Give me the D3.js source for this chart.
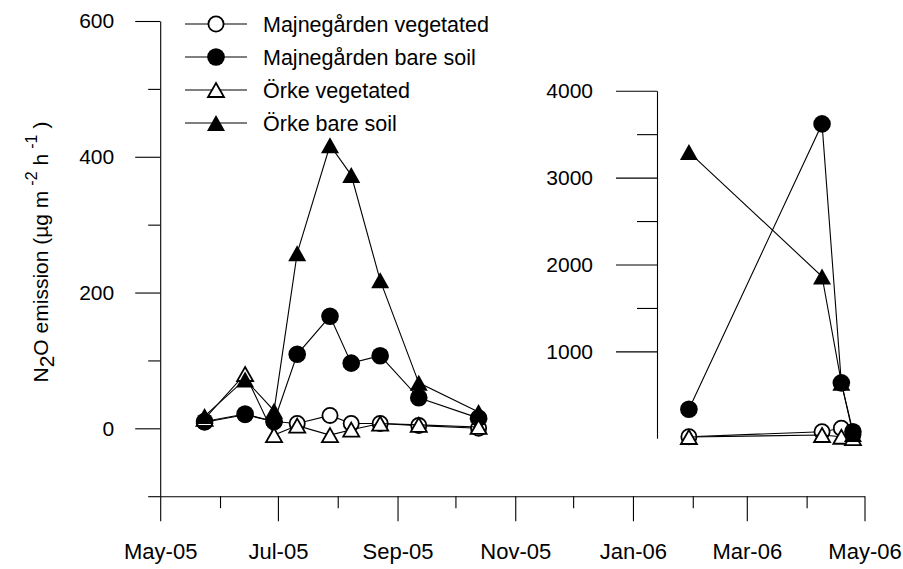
<!DOCTYPE html>
<html>
<head>
<meta charset="utf-8">
<script src="https://cdn.jsdelivr.net/npm/d3@7"></script>
<style>
  html, body { margin: 0; padding: 0; background: #fff; }
  svg { display: block; }
  text { font-family: "Liberation Sans", Arial, sans-serif; fill: #000; }
</style>
</head>
<body>
<svg id="chart" width="903" height="569"></svg>
<script>
// ---------- DATA ----------
const seriesNames = ["Majnegården vegetated", "Majnegården bare soil", "Örke vegetated", "Örke bare soil"];
const seriesMarkers = ["openCircle", "filledCircle", "openTriangle", "filledTriangle"];

// 2005 season (left axis, µg m-2 h-1)
const datesA = ["2005-05-24", "2005-06-14", "2005-06-29", "2005-07-11", "2005-07-28", "2005-08-08", "2005-08-23", "2005-09-12", "2005-10-13"];
const majVegA  = [9, 20, 10, 7, 19, 7, 7, 4, 0];
const majBareA = [10, 21, 10, 109, 165, 96, 107, 45, 15];
const orkVegA  = [14, 80, -10, 4, -10, -2, 7, 5, 2];
const orkBareA = [18, 72, 26, 258, 417, 373, 218, 67, 24];

// 2006 spring thaw (right axis)
const datesB = ["2006-01-30", "2006-04-09", "2006-04-19", "2006-04-25"];
const majVegB  = [18, 76, 115, 40];
const majBareB = [335, 3618, 638, 76];
const orkVegB  = [15, 38, 18, 3];
const orkBareB = [3294, 1862, 640, 50];

// ticks
const xMajorTicks = ["2005-05-01", "2005-07-01", "2005-09-01", "2005-11-01", "2006-01-01", "2006-03-01", "2006-05-01"];
const xMinorTicks = ["2005-06-01", "2005-08-01", "2005-10-01", "2005-12-01", "2006-02-01", "2006-04-01"];
const yLeftMajor = [0, 200, 400, 600];
const yLeftMinor = [-100, 100, 300, 500];
const yRightMajor = [1000, 2000, 3000, 4000];
const yRightMinor = [1500, 2500, 3500];

// ---------- SETUP ----------
const parse = d3.timeParse("%Y-%m-%d");
const svg = d3.select("#chart");
const FONT_Y = 21, FONT_X = 22, FONT_LEG = 21.5;

const x = d3.scaleTime()
  .domain([parse("2005-05-01"), parse("2006-05-01")])
  .range([160.2, 864.5]);
const yL = d3.scaleLinear().domain([-100, 600]).range([496.2, 21]);
const yR = d3.scaleLinear().domain([0, 4000]).range([438.3, 90.7]);

// ---------- AXES ----------
function styleAxis(fs) {
  return g => {
    g.selectAll("path.domain").attr("stroke", "#000").attr("stroke-width", 1.1);
    g.selectAll(".tick line").attr("stroke", "#000").attr("stroke-width", 1.1);
    g.selectAll("text").style("font-size", fs + "px").style("font-family", '"Liberation Sans", Arial, sans-serif').attr("fill", "#000");
  };
}

// X axis
const gx = svg.append("g").attr("transform", `translate(0,${yL(-100)})`);
gx.call(d3.axisBottom(x).tickValues(xMajorTicks.map(parse)).tickFormat(d3.timeFormat("%b-%y"))
  .tickSizeInner(25).tickSizeOuter(0).tickPadding(22)).call(styleAxis(FONT_X));
gx.append("g").call(d3.axisBottom(x).tickValues(xMinorTicks.map(parse)).tickFormat("")
  .tickSizeInner(12).tickSizeOuter(0)).call(styleAxis(FONT_X))
  .select("path.domain").remove();

// Left Y axis
const gyL = svg.append("g").attr("transform", `translate(${x.range()[0]},0)`);
gyL.call(d3.axisLeft(yL).tickValues(yLeftMajor).tickFormat(d3.format("d"))
  .tickSizeInner(25).tickSizeOuter(0).tickPadding(21)).call(styleAxis(FONT_Y));
gyL.append("g").call(d3.axisLeft(yL).tickValues(yLeftMinor).tickFormat("")
  .tickSizeInner(12).tickSizeOuter(0)).call(styleAxis(FONT_Y))
  .select("path.domain").remove();

// Right Y axis (second panel)
const gyR = svg.append("g").attr("transform", "translate(657,0)");
gyR.call(d3.axisLeft(yR).tickValues(yRightMajor).tickFormat(d3.format("d"))
  .tickSizeInner(41).tickSizeOuter(0).tickPadding(23)).call(styleAxis(FONT_Y));
gyR.append("g").call(d3.axisLeft(yR).tickValues(yRightMinor).tickFormat("")
  .tickSizeInner(20).tickSizeOuter(0)).call(styleAxis(FONT_Y))
  .select("path.domain").remove();

// Y axis title
const title = svg.append("text")
  .attr("transform", "translate(48,252) rotate(-90)")
  .attr("text-anchor", "middle")
  .style("font-size", "21px");
title.append("tspan").text("N");
title.append("tspan").text("2").attr("dy", 6);
title.append("tspan").text("O emission (µg m").attr("dy", -6);
title.append("tspan").text("-2").attr("dy", -11).style("font-size", "16px").attr("dx", 5);
title.append("tspan").text("h").attr("dy", 11).attr("dx", 6);
title.append("tspan").text("-1").attr("dy", -11).style("font-size", "16px").attr("dx", 5);
title.append("tspan").text(")").attr("dy", 11).attr("dx", 6);

// ---------- MARKERS ----------
function drawMarker(g, type, cx, cy) {
  const a = 18, h = 16, r = 8.8, ro = 7.6;
  if (type === "filledCircle") {
    g.append("circle").attr("cx", cx).attr("cy", cy).attr("r", r).attr("fill", "#000");
  } else if (type === "openCircle") {
    g.append("circle").attr("cx", cx).attr("cy", cy).attr("r", ro).attr("fill", "#fff")
      .attr("stroke", "#000").attr("stroke-width", 1.8);
  } else if (type === "filledTriangle") {
    const p = `M${cx},${cy - h / 2}L${cx + a / 2},${cy + h / 2}L${cx - a / 2},${cy + h / 2}Z`;
    g.append("path").attr("d", p).attr("fill", "#000");
  } else {
    const a2 = 16, h2 = 14;
    const p2 = `M${cx},${cy - h2 / 2}L${cx + a2 / 2},${cy + h2 / 2}L${cx - a2 / 2},${cy + h2 / 2}Z`;
    g.append("path").attr("d", p2).attr("fill", "#fff").attr("stroke", "#000").attr("stroke-width", 1.8);
  }
}

const panelA = [majVegA, majBareA, orkVegA, orkBareA];
const panelB = [majVegB, majBareB, orkVegB, orkBareB];

function drawPanel(dates, sets, yScale) {
  const ds = dates.map(parse);
  const line = d3.line().x(d => x(d[0])).y(d => yScale(d[1]));
  sets.forEach((vals, i) => {
    const g = svg.append("g");
    const pts = ds.map((d, j) => [d, vals[j]]);
    g.append("path").attr("d", line(pts)).attr("fill", "none").attr("stroke", "#000").attr("stroke-width", 1.1);
    pts.forEach(p => drawMarker(g, seriesMarkers[i], x(p[0]), yScale(p[1])));
  });
}
drawPanel(datesA, panelA, yL);
drawPanel(datesB, panelB, yR);

// ---------- LEGEND ----------
const legend = svg.append("g");
const legendY = [24, 57, 90, 123];
seriesNames.forEach((name, i) => {
  const cy = legendY[i];
  legend.append("line").attr("x1", 185).attr("x2", 247).attr("y1", cy).attr("y2", cy)
    .attr("stroke", "#000").attr("stroke-width", 1.1);
  drawMarker(legend, seriesMarkers[i], 216, cy);
  legend.append("text").attr("x", 263).attr("y", cy + 7.5).style("font-size", FONT_LEG + "px").text(name);
});
</script>
</body>
</html>
